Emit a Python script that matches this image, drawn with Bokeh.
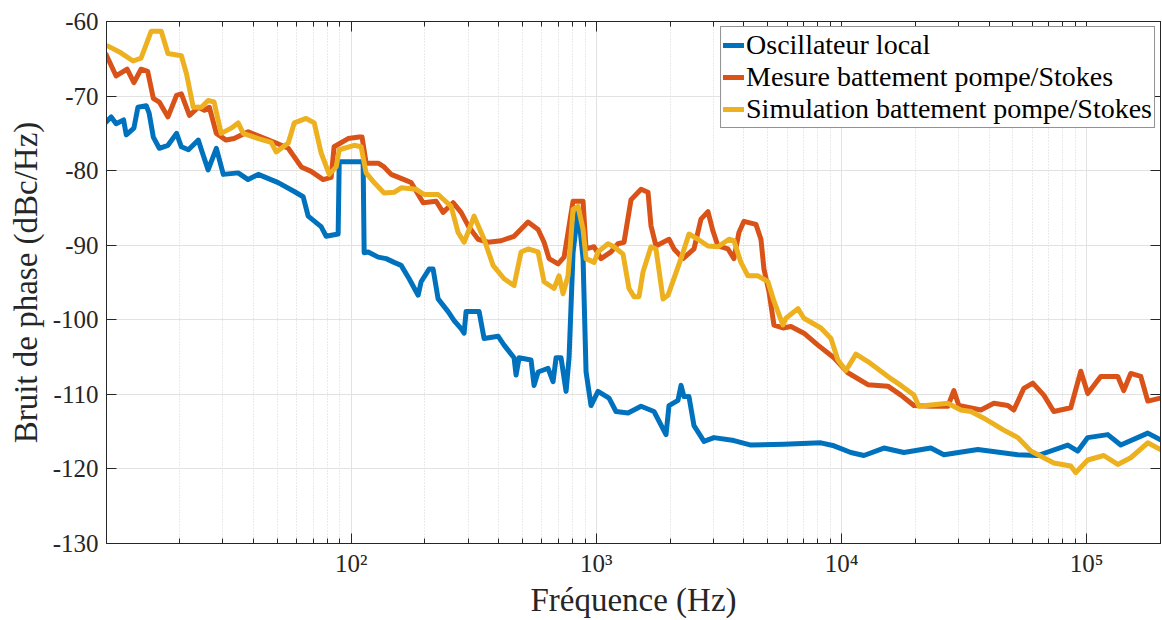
from bokeh.plotting import figure
from bokeh.models import (LogAxis, LinearAxis, Legend, LegendItem, CustomJSTickFormatter,
                          LogTicker, FixedTicker, Range1d, ColumnDataSource)
from bokeh.embed import file_html
from bokeh.resources import INLINE

# ---------------- data ----------------
y_ticks = [-130, -120, -110, -100, -90, -80, -70, -60]

osc_freq = [10.0, 10.5, 11.0, 11.8, 12.1, 13.0, 13.5, 14.6, 15.0, 15.6, 16.5, 17.9, 19.4, 20.3,
            21.7, 23.8, 24.5, 26.1, 28.2, 30.1, 34.6, 38.0, 41.8, 50.4, 58.6, 63.7, 66.8, 75.4,
            79.1, 88.5, 89.4, 107.8, 111.9, 113.0, 117.3, 128.9, 138.9, 149.7, 159.9, 172.4,
            187.6, 192.9, 208.0, 215.9, 226.3, 248.6, 263.0, 280.8, 288.8, 294.3, 332.5, 348.5,
            397.4, 420.5, 461.8, 470.6, 484.1, 541.6, 557.3, 578.7, 635.6, 666.1, 685.1, 718.0,
            752.6, 774.1, 803.6, 842.3, 882.8, 908.1, 951.5, 1016, 1127, 1203, 1347, 1522, 1719,
            1924, 1979, 2153, 2215, 2278, 2387, 2502, 2748, 3018, 3641, 4272, 5824, 8241, 9312,
            10920, 12340, 14890, 17960, 23140, 26150, 35970, 52370, 63180, 83750, 91960, 101000,
            121900, 137700, 177500, 200000]
osc_db = [-73.5, -72.8, -73.7, -73.2, -75.2, -74.3, -71.5, -71.3, -72.3, -75.5, -77.0, -76.6,
          -75.0, -76.8, -77.2, -75.9, -77.2, -79.9, -77.0, -80.5, -80.3, -81.2, -80.5, -81.6,
          -82.8, -83.5, -86.1, -87.5, -88.8, -88.5, -78.8, -78.8, -78.8, -91.0, -90.9, -91.6,
          -91.8, -92.3, -92.7, -94.5, -96.7, -94.9, -93.2, -93.2, -97.2, -98.9, -100.1, -101.2,
          -101.8, -98.9, -98.9, -102.5, -102.2, -103.4, -105.1, -107.4, -105.1, -105.4, -108.8,
          -107.0, -106.5, -108.3, -105.1, -105.1, -109.6, -105.1, -91.0, -85.2, -91.8, -107.0,
          -111.5, -109.6, -110.5, -112.3, -112.5, -111.6, -112.3, -115.4, -111.5, -110.8, -108.8,
          -110.3, -110.3, -114.2, -116.3, -115.8, -116.2, -116.8, -116.7, -116.5, -116.9, -117.8,
          -118.2, -117.2, -117.8, -117.2, -118.1, -117.4, -118.1, -118.2, -116.8, -117.6, -115.8,
          -115.4, -116.8, -115.2, -116.1]

mes_freq = [10.0, 11.0, 12.2, 13.0, 13.9, 14.8, 15.6, 16.5, 17.9, 19.4, 20.3, 21.9, 23.8, 25.2,
            26.4, 28.2, 30.9, 33.3, 38.0, 43.0, 48.6, 55.4, 62.6, 68.7, 76.9, 82.9, 85.2, 97.2,
            107.8, 110.8, 115.1, 128.9, 136.3, 145.6, 164.5, 175.6, 196.6, 222.1, 237.2, 260.5,
            280.8, 302.7, 329.4, 361.8, 408.7, 461.8, 526.6, 578.7, 612.2, 641.6, 698.1, 738.6,
            803.6, 882.8, 908.1, 978.8, 1045, 1148, 1226, 1297, 1385, 1522, 1625, 1671, 1751,
            1979, 2074, 2257, 2502, 2672, 2853, 2990, 3134, 3443, 3641, 3816, 4000, 4477, 4693,
            4827, 5058, 5303, 5769, 6220, 7026, 8013, 9312, 10620, 12810, 15460, 17470, 19730,
            23140, 27140, 28720, 30100, 37010, 41810, 47680, 50440, 55400, 60300, 66850, 73420,
            86110, 94610, 101000, 114100, 133900, 141600, 151200, 166200, 177500, 200000]
mes_db = [-64.4, -67.3, -66.4, -68.2, -66.4, -66.7, -70.3, -70.8, -72.8, -69.9, -69.7, -72.6,
          -71.5, -71.9, -71.5, -75.0, -75.9, -75.7, -74.8, -75.5, -76.2, -77.0, -79.5, -80.1,
          -81.2, -80.9, -76.8, -75.7, -75.5, -75.5, -79.0, -79.0, -79.5, -80.5, -81.2, -81.6,
          -84.3, -84.1, -85.6, -84.3, -85.6, -87.6, -89.2, -89.6, -89.4, -88.8, -86.9, -87.9,
          -89.6, -91.8, -92.5, -91.6, -84.1, -84.1, -90.5, -90.2, -91.8, -90.9, -89.8, -89.6,
          -83.9, -82.5, -82.9, -87.4, -90.1, -89.2, -90.5, -91.8, -90.5, -86.5, -85.5, -88.1,
          -90.1, -90.5, -91.8, -88.3, -86.8, -87.2, -89.2, -93.2, -96.2, -100.7, -101.1, -100.9,
          -101.8, -103.4, -105.1, -107.1, -108.7, -108.9, -110.1, -111.5, -111.6, -111.6, -109.5,
          -111.5, -112.1, -111.2, -111.5, -112.1, -109.2, -108.5, -110.1, -112.3, -111.8, -106.9,
          -109.9, -107.6, -107.6, -109.5, -107.2, -107.6, -110.9, -110.5]

sim_freq = [10.2, 11.5, 12.9, 13.9, 15.3, 16.8, 17.9, 20.3, 21.3, 22.7, 24.5, 26.1, 27.6, 29.5,
            32.4, 34.6, 36.3, 41.8, 47.2, 49.5, 55.4, 58.6, 65.5, 70.7, 75.4, 81.4, 86.9, 89.4,
            102.9, 109.8, 115.1, 124.1, 136.3, 149.7, 159.9, 184.1, 198.4, 226.3, 255.7, 273.1,
            288.8, 302.7, 317.2, 348.5, 379.2, 420.5, 461.8, 493.3, 526.6, 578.7, 612.2, 672.4,
            704.7, 731.7, 766.8, 803.6, 842.3, 882.8, 908.1, 978.8, 1016, 1116, 1181, 1285, 1359,
            1425, 1493, 1550, 1671, 1751, 1871, 1961, 2215, 2387, 2598, 2853, 3134, 3475, 3641,
            3888, 4153, 4562, 5012, 5303, 5769, 5934, 6641, 7026, 8241, 9055, 9668, 10420, 11450,
            12810, 14480, 15900, 17470, 19730, 20680, 27140, 30670, 33700, 38060, 45920, 52370,
            59180, 66850, 73420, 86110, 90250, 101000, 117400, 133900, 151200, 177500, 200000]
sim_db = [-63.3, -64.2, -65.3, -64.9, -61.3, -61.3, -64.3, -64.6, -67.0, -71.5, -71.5, -70.6,
          -70.8, -75.0, -74.3, -73.6, -75.0, -75.7, -76.2, -77.5, -76.3, -73.6, -73.0, -73.6,
          -77.6, -80.5, -79.5, -77.2, -76.6, -76.8, -80.3, -81.6, -83.0, -82.9, -82.3, -82.5,
          -83.2, -83.2, -84.8, -88.3, -89.6, -87.9, -86.1, -89.2, -92.7, -94.5, -95.4, -90.9,
          -90.5, -90.9, -94.9, -95.8, -94.1, -96.5, -94.1, -85.2, -84.8, -87.9, -91.8, -92.3,
          -90.9, -89.8, -90.2, -91.2, -95.8, -96.9, -96.9, -93.6, -90.2, -90.5, -97.2, -96.7,
          -91.8, -88.5, -89.2, -90.1, -90.2, -89.2, -89.4, -92.3, -94.1, -94.1, -94.9, -97.5,
          -100.7, -99.8, -98.5, -99.8, -101.1, -102.5, -105.4, -106.8, -104.6, -105.6, -106.9,
          -107.9, -108.8, -110.1, -111.6, -111.2, -112.1, -112.3, -113.2, -114.8, -115.8, -117.6,
          -118.5, -119.2, -119.6, -120.5, -118.8, -118.2, -119.4, -118.5, -116.5, -117.4]

labels = ["Oscillateur local", "Mesure battement pompe/Stokes",
          "Simulation battement pompe/Stokes"]
colors = ["#0072BD", "#D95319", "#EDB120"]

# ---------------- figure ----------------
FONT = "Liberation Serif"
AX = "#262626"

p = figure(width=1162, height=620, x_axis_type="log",
           x_range=Range1d(10.05, 2.0e5), y_range=Range1d(-130, -60),
           output_backend="svg", toolbar_location=None,
           min_border_left=106, min_border_top=21, min_border_right=2, min_border_bottom=72,
           background_fill_color="white", border_fill_color="white")
p.outline_line_color = AX
p.outline_line_width = 1

sup_js = """
const e = Math.round(Math.log10(tick));
const sup = {"0":"\u2070","1":"\u00b9","2":"\u00b2","3":"\u00b3","4":"\u2074",
             "5":"\u2075","6":"\u2076","7":"\u2077","8":"\u2078","9":"\u2079","-":"\u207b"};
return "10" + String(e).split("").map(c => sup[c]).join("");
"""

xt = LogTicker(num_minor_ticks=10)
yt = FixedTicker(ticks=y_ticks)


def style_axis(ax, labels_on=True):
    ax.axis_line_color = AX
    ax.axis_line_width = 1
    ax.major_tick_in = 10
    ax.major_tick_out = 0
    ax.minor_tick_in = 5
    ax.minor_tick_out = 0
    ax.major_tick_line_color = AX
    ax.minor_tick_line_color = AX
    ax.major_label_text_font = FONT
    ax.major_label_text_color = AX
    ax.axis_label_text_font = FONT
    ax.axis_label_text_font_style = "normal"
    ax.axis_label_text_color = AX
    if not labels_on:
        ax.major_label_text_font_size = "0px"
        ax.major_label_standoff = 0
        ax.axis_label_standoff = 0
        ax.formatter = CustomJSTickFormatter(code="return '';")


xa = p.xaxis[0]
xa.ticker = xt
xa.formatter = CustomJSTickFormatter(code=sup_js)
style_axis(xa)
xa.major_label_text_font_size = "25px"
xa.major_label_standoff = 6
xa.axis_label = "Fréquence (Hz)"
xa.axis_label_text_font_size = "33px"
xa.axis_label_standoff = 2

ya = p.yaxis[0]
ya.ticker = yt
ya.formatter = CustomJSTickFormatter(code="return tick.toFixed(0);")
style_axis(ya)
ya.minor_tick_line_color = None
ya.major_label_text_font_size = "25px"
ya.major_label_standoff = 8
ya.axis_label = "Bruit de phase (dBc/Hz)"
ya.axis_label_text_font_size = "33px"
ya.axis_label_standoff = 6

top = LogAxis(ticker=xt)
style_axis(top, labels_on=False)
p.add_layout(top, "above")

right = LinearAxis(ticker=yt)
style_axis(right, labels_on=False)
right.minor_tick_line_color = None
p.add_layout(right, "right")

p.xgrid.ticker = xt
p.xgrid.grid_line_color = "#e2e2e2"
p.xgrid.grid_line_width = 1
p.xgrid.minor_grid_line_color = "#d4d4d4"
p.xgrid.minor_grid_line_dash = "1 2"
p.ygrid.ticker = yt
p.ygrid.grid_line_color = "#e2e2e2"
p.ygrid.grid_line_width = 1

series = [(osc_freq, osc_db), (mes_freq, mes_db), (sim_freq, sim_db)]
items = []
for (fx, fy), lab, col in zip(series, labels, colors):
    src = ColumnDataSource(dict(f=fx, db=fy))
    r = p.line("f", "db", source=src, line_color=col, line_width=5,
               line_join="round", line_cap="round")
    items.append(LegendItem(label=lab, renderers=[r]))

legend = Legend(items=items, location="top_right")
legend.label_text_font = FONT
legend.label_text_font_size = "28px"
legend.label_text_color = "#000000"
legend.border_line_color = AX
legend.border_line_width = 1
legend.background_fill_color = "white"
legend.background_fill_alpha = 1.0
legend.padding = 2
legend.spacing = -2
legend.margin = 5
legend.glyph_width = 21
legend.glyph_height = 28
legend.label_height = 28
legend.label_standoff = 2
p.add_layout(legend)

open("out.html", "w").write(file_html(p, INLINE))
